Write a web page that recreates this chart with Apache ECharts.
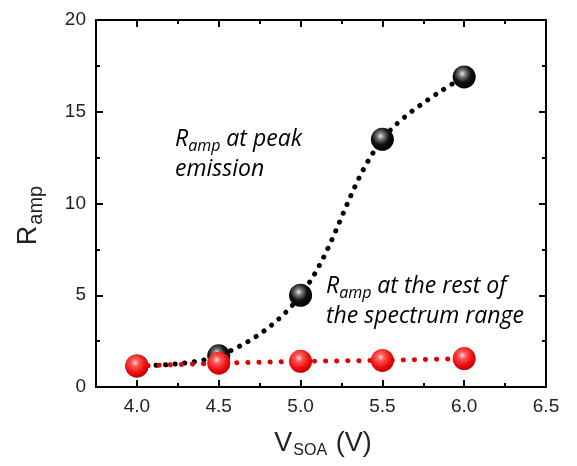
<!DOCTYPE html>
<html><head><meta charset="utf-8">
<script src="https://cdn.jsdelivr.net/npm/echarts@6/dist/echarts.min.js"></script>
<style>html,body{margin:0;padding:0;background:#fff}#c{width:577px;height:466px}</style>
</head><body><div id="c"></div>
<script>
const vsoa = [4.0, 4.5, 5.0, 5.5, 6.0];
const rampPeak = [1.15, 1.7, 5.0, 13.5, 16.9];
const rampRest = [1.15, 1.3, 1.4, 1.45, 1.55];
const xMajor = [4.0, 4.5, 5.0, 5.5, 6.0, 6.5];
const xMinor = [4.25, 4.75, 5.25, 5.75, 6.25];

const chart = echarts.init(document.getElementById('c'));
const blackBall = new echarts.graphic.RadialGradient(0.42, 0.36, 0.62, [
  {offset: 0, color: '#e8e8e8'}, {offset: 0.25, color: '#777'}, {offset: 0.6, color: '#111'}, {offset: 1, color: '#000'}]);
const redBall = new echarts.graphic.RadialGradient(0.42, 0.36, 0.62, [
  {offset: 0, color: '#ffe6e6'}, {offset: 0.25, color: '#ff5a5a'}, {offset: 0.7, color: '#ee1010'}, {offset: 1, color: '#c80000'}]);
const labelFont = {fontFamily: 'Liberation Sans, Arial', fontSize: 19, color: '#222'};
const line = {show: true, lineStyle: {color: '#000', width: 2}};
const fmt = v => v.toFixed(1);
const annFont = 'Open Sans';

chart.setOption({
  animation: false,
  grid: {left: 96, top: 20, right: 31, bottom: 79},
  xAxis: [
    {type: 'value', position: 'bottom', min: 3.75, max: 6.5,
     axisLine: line, splitLine: {show: false},
     axisTick: {show: true, inside: true, length: 7, customValues: xMajor, lineStyle: {width: 2, color: '#000'}},
     axisLabel: Object.assign({show: true, customValues: xMajor, formatter: fmt, margin: 10}, labelFont),
     name: '{b|V}{s|SOA}{b| (V)}', nameLocation: 'middle', nameGap: 42,
     nameTextStyle: {padding: [0, 0, 0, 4], rich: {b: {fontFamily: 'Liberation Sans, Arial', fontSize: 27, color: '#222'},
                            s: {fontFamily: 'Liberation Sans, Arial', fontSize: 16, color: '#222', verticalAlign: 'bottom', padding: [14, 1, 0, 1]}}}},
    {type: 'value', position: 'bottom', min: 3.75, max: 6.5, axisLine: {show: false}, splitLine: {show: false},
     axisTick: {show: true, inside: true, length: 4, customValues: xMinor, lineStyle: {width: 2, color: '#000'}},
     axisLabel: {show: false}},
    {type: 'value', position: 'top', min: 3.75, max: 6.5, axisLine: line, splitLine: {show: false},
     axisTick: {show: true, inside: true, length: 7, customValues: xMajor, lineStyle: {width: 2, color: '#000'}},
     axisLabel: {show: false}},
    {type: 'value', position: 'top', min: 3.75, max: 6.5, axisLine: {show: false}, splitLine: {show: false},
     axisTick: {show: true, inside: true, length: 4, customValues: xMinor, lineStyle: {width: 2, color: '#000'}},
     axisLabel: {show: false}}
  ],
  yAxis: [
    {type: 'value', position: 'left', min: 0, max: 20, interval: 5,
     axisLine: line, splitLine: {show: false},
     axisTick: {show: true, inside: true, length: 7, lineStyle: {width: 2, color: '#000'}},
     minorTick: {show: true, splitNumber: 2, length: 4, lineStyle: {width: 2, color: '#000'}},
     axisLabel: Object.assign({margin: 10}, labelFont),
     name: '{b|R}{s|amp}', nameLocation: 'middle', nameGap: 50,
     nameTextStyle: {padding: [0, 24, 0, 0], rich: {b: {fontFamily: 'Liberation Sans, Arial', fontSize: 27, color: '#222'},
                            s: {fontFamily: 'Liberation Sans, Arial', fontSize: 20, color: '#222', verticalAlign: 'bottom', padding: [14, 0, 0, 1]}}}},
    {type: 'value', position: 'right', min: 0, max: 20, interval: 5,
     axisLine: line, splitLine: {show: false},
     axisTick: {show: true, inside: true, length: 7, lineStyle: {width: 2, color: '#000'}},
     minorTick: {show: true, splitNumber: 2, length: 4, lineStyle: {width: 2, color: '#000'}},
     axisLabel: {show: false}}
  ],
  series: [
    {type: 'line', data: vsoa.map((x, i) => [x, rampPeak[i]]), smooth: 0.35,
     symbol: 'circle', symbolSize: 23, itemStyle: {color: blackBall, borderWidth: 0},
     lineStyle: {color: '#000', width: 5, type: [0.1, 9.5], cap: 'round'}, z: 2},
    {type: 'line', data: vsoa.map((x, i) => [x, rampRest[i]]),
     symbol: 'circle', symbolSize: 23, itemStyle: {color: redBall, borderWidth: 0},
     lineStyle: {color: '#e00000', width: 5, type: [0.1, 11], cap: 'round'}, z: 3}
  ],
  graphic: [
    {type: 'text', left: 175, top: 126, z: 10, style: {
      text: '{r|R}{s|amp}{r| at peak}\n{r|emission}',
      rich: {r: {fontFamily: annFont, fontStyle: 'italic', fontSize: 23, color: '#111', lineHeight: 30},
             s: {fontFamily: annFont, fontStyle: 'italic', fontSize: 16, color: '#111', verticalAlign: 'bottom', lineHeight: 30, padding: [12, 0, 0, 0]}}}},
    {type: 'text', left: 326, top: 273, z: 10, style: {
      text: '{r|R}{s|amp}{r| at the rest of}\n{r|the spectrum range}',
      rich: {r: {fontFamily: annFont, fontStyle: 'italic', fontSize: 23, color: '#e0201e', lineHeight: 30},
             s: {fontFamily: annFont, fontStyle: 'italic', fontSize: 16, color: '#e0201e', verticalAlign: 'bottom', lineHeight: 30, padding: [12, 0, 0, 0]}}}}
  ]
});
</script></body></html>
